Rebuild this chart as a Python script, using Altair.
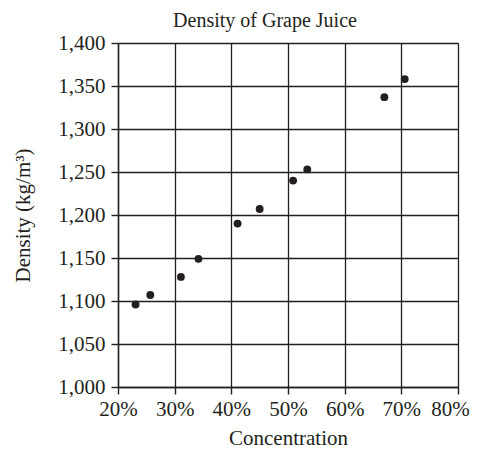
import altair as alt
import pandas as pd

concentration = [23.1, 25.7, 31.1, 34.2, 41.1, 45.0, 50.9, 53.4, 67.0, 70.6]
density = [1096, 1107, 1128, 1149, 1190, 1207, 1240, 1253, 1337, 1358]

x_ticks = [20, 30, 40, 50, 60, 70, 80]
y_ticks = [1000, 1050, 1100, 1150, 1200, 1250, 1300, 1350, 1400]

df = pd.DataFrame({"c": concentration, "d": density})

FONT = "Liberation Serif"
INK = "#231f20"

chart = alt.Chart(df).mark_circle(size=62, color=INK, opacity=1).encode(
    x=alt.X("c:Q", scale=alt.Scale(domain=[20, 80], nice=False, zero=False),
            axis=alt.Axis(values=x_ticks, labelExpr="datum.value + '%'",
                          labelOverlap=False, labelFlush=False,
                          labelOffset={"condition": {"test": "datum.value == 80", "value": -8}, "value": 0},
                          title="Concentration", titlePadding=8, labelPadding=4)),
    y=alt.Y("d:Q", scale=alt.Scale(domain=[1000, 1400], nice=False, zero=False),
            axis=alt.Axis(values=y_ticks, format=",.0f", labelOverlap=False,
                          title="Density (kg/m³)", titlePadding=24, labelPadding=6)),
).properties(
    width=340,
    height=344,
    title=alt.TitleParams("Density of Grape Juice", font=FONT, fontSize=20,
                          fontWeight="normal", color=INK, dx=-23, offset=1),
    autosize=alt.AutoSizeParams(type="none"),
    padding={"left": 110, "top": 35, "right": 14, "bottom": 63},
).configure_axis(
    grid=True, gridColor=INK, gridOpacity=1, gridWidth=1.3,
    domainColor=INK, domainWidth=1.4, tickColor=INK, tickWidth=1.4, tickSize=7,
    labelFont=FONT, labelFontSize=21, labelColor=INK,
    titleFont=FONT, titleFontSize=21, titleFontWeight="normal", titleColor=INK,
).configure_view(stroke=None)

chart.save("out.html", embed_options={"renderer": "svg", "actions": False})
